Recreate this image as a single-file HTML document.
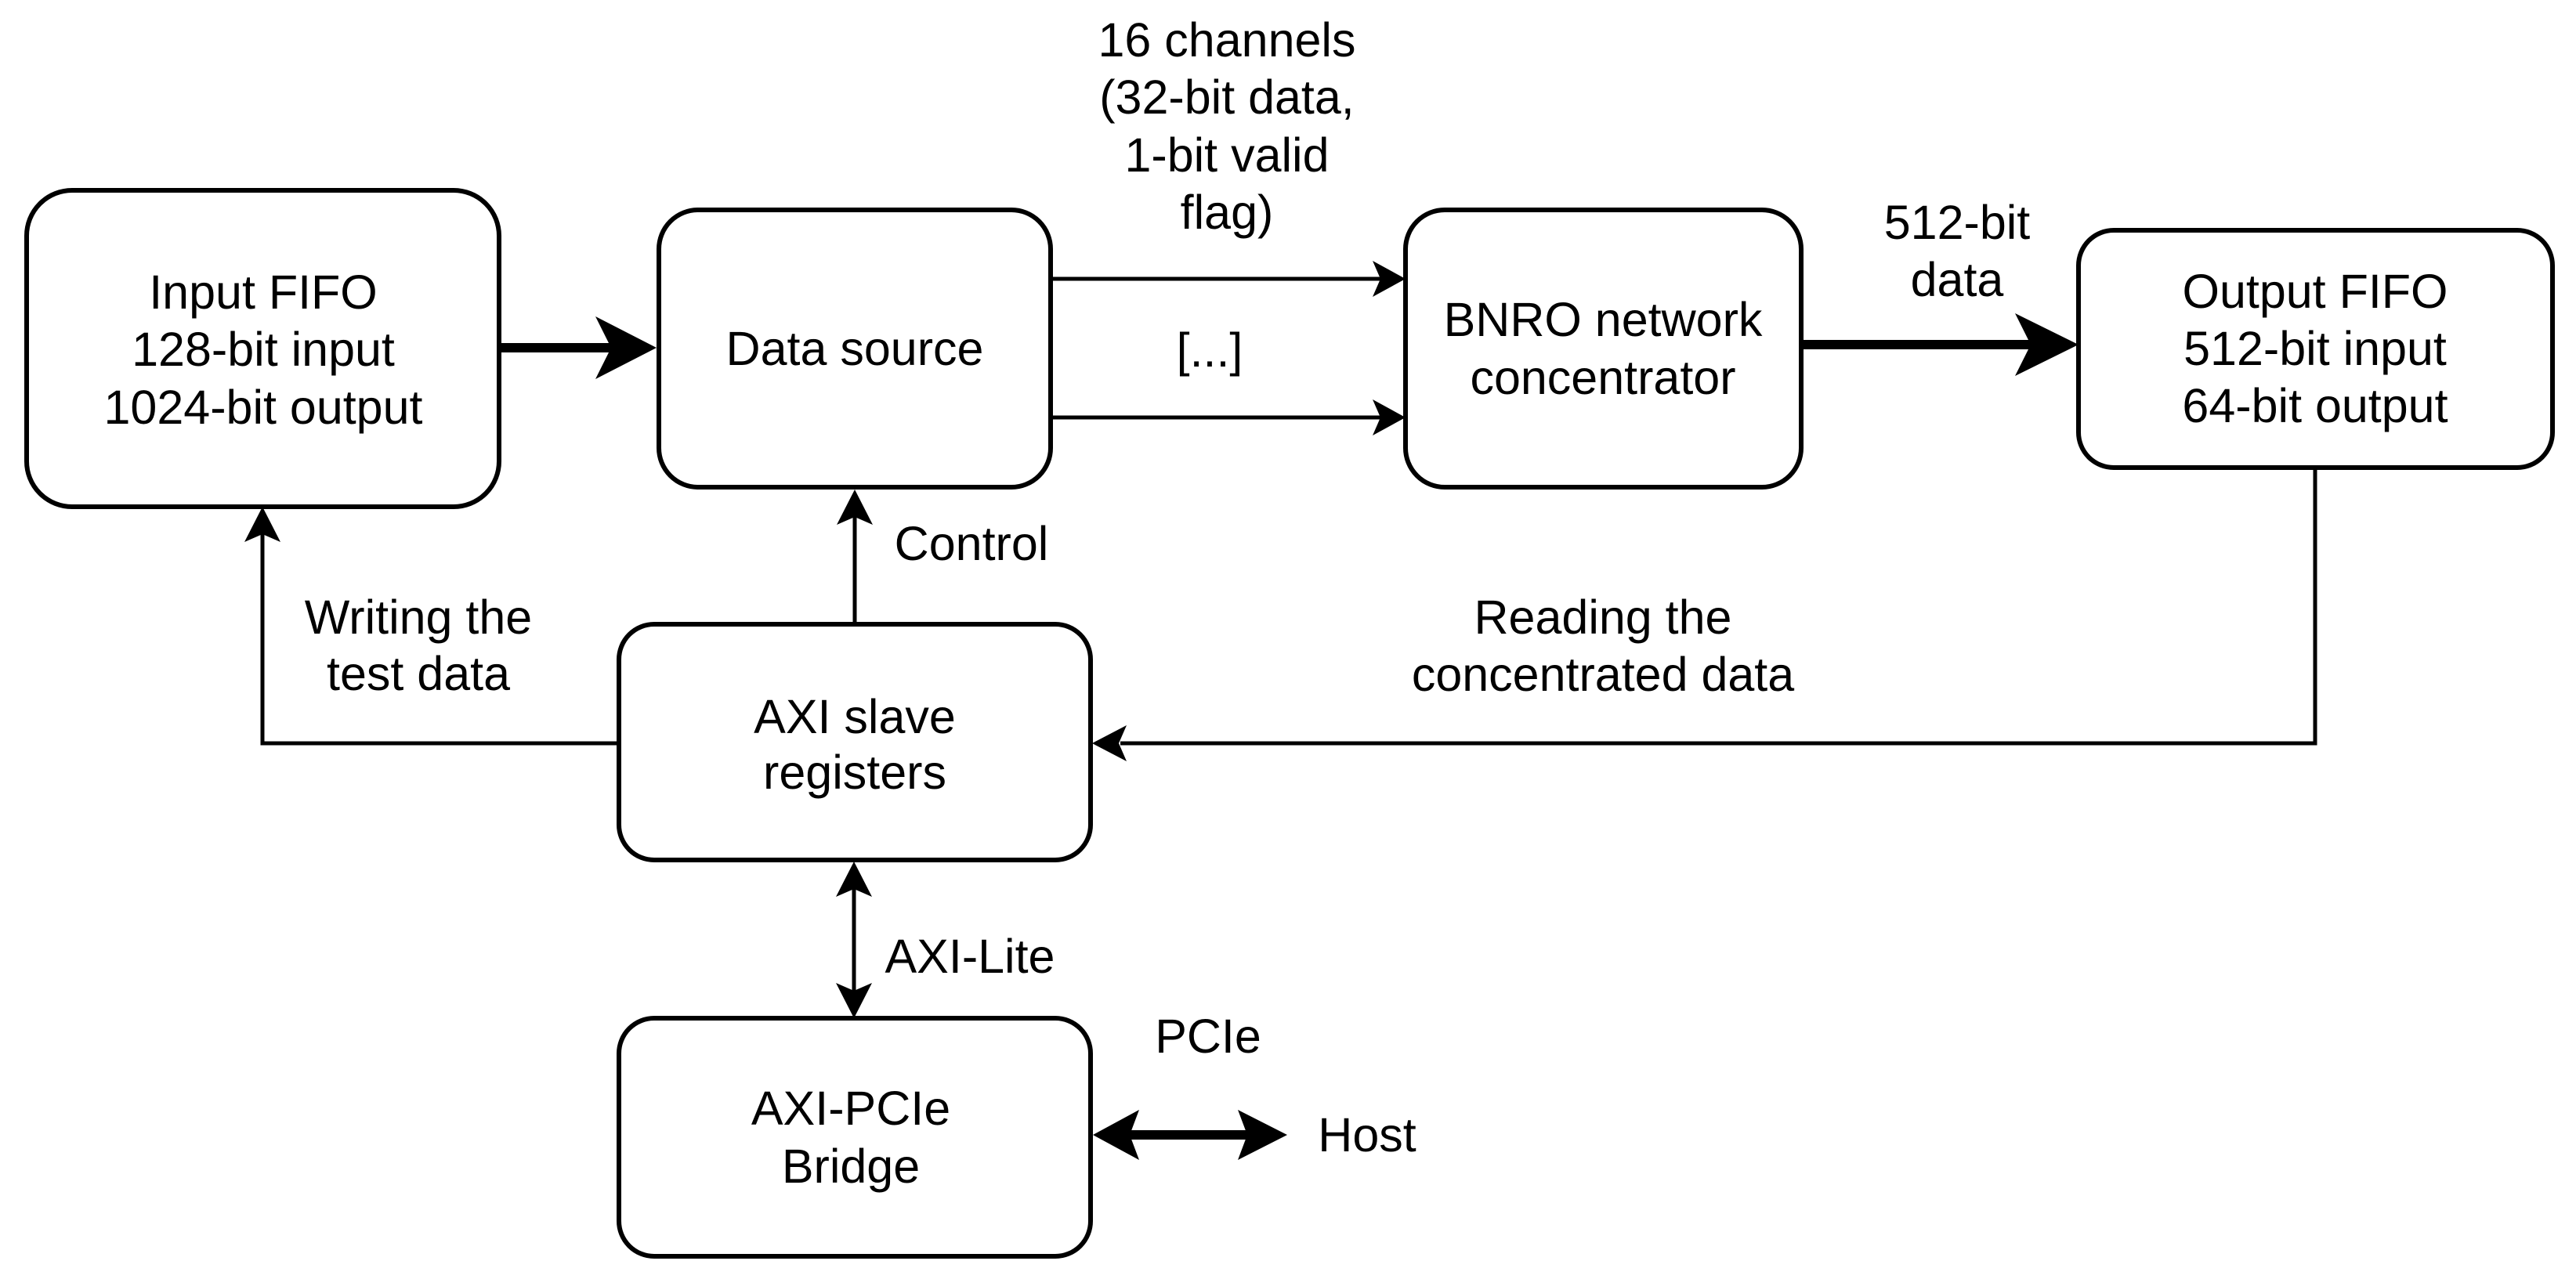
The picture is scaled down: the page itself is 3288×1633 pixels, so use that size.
<!DOCTYPE html>
<html><head><meta charset="utf-8"><style>
html,body{margin:0;padding:0;background:#fff}
svg{display:block}
text{font-family:"Liberation Sans",Arial,sans-serif;font-size:61px;fill:#000;text-anchor:middle;dominant-baseline:central}
</style></head><body>
<svg width="3288" height="1633" viewBox="0 0 3288 1633" xmlns="http://www.w3.org/2000/svg">
<g fill="none" stroke="#000" stroke-width="6">
<rect x="34" y="243" width="603" height="404" rx="58"/>
<rect x="841" y="268" width="500" height="354" rx="50"/>
<rect x="1794" y="268" width="505" height="354" rx="50"/>
<rect x="2653" y="294" width="605" height="303" rx="45"/>
<rect x="790" y="797" width="602" height="301" rx="45"/>
<rect x="790" y="1300" width="602" height="304" rx="45"/>
</g>
<g fill="none" stroke="#000" stroke-width="5">
<line x1="1341" y1="356" x2="1770" y2="356"/>
<line x1="1341" y1="533" x2="1770" y2="533"/>
<line x1="1091" y1="794" x2="1091" y2="660"/>
<polyline points="790,949 335,949 335,680"/>
<polyline points="2955,597 2955,949 1430,949"/>
<line x1="1090" y1="1135" x2="1090" y2="1265"/>
</g>
<g fill="none" stroke="#000" stroke-width="12">
<line x1="637" y1="444" x2="790" y2="444"/>
<line x1="2299" y1="440" x2="2600" y2="440"/>
<line x1="1440" y1="1449" x2="1600" y2="1449"/>
</g>
<g fill="#000" stroke="none">
<!-- thick heads -->
<path d="M838,444 L760,404 L780,444 L760,484 Z"/>
<path d="M2653,440 L2572,400 L2592,440 L2572,480 Z"/>
<path d="M1395,1449 L1454,1417 L1442,1449 L1454,1481 Z"/>
<path d="M1643,1449 L1580,1417 L1592,1449 L1580,1481 Z"/>
<!-- channel heads -->
<path d="M1794,356 L1752,333 L1762,356 L1752,379 Z"/>
<path d="M1794,533 L1752,510 L1762,533 L1752,556 Z"/>
<!-- control up -->
<path d="M1091,625 L1068,670 L1091,660 L1114,670 Z"/>
<!-- input fifo up -->
<path d="M335,647 L312,692 L335,682 L358,692 Z"/>
<!-- reading left -->
<path d="M1394,949 L1438,926 L1428,949 L1438,972 Z"/>
<!-- axi-lite double -->
<path d="M1090,1100 L1067,1145 L1090,1135 L1113,1145 Z"/>
<path d="M1090,1300 L1067,1255 L1090,1265 L1113,1255 Z"/>
</g>
<text x="336" y="373">Input FIFO</text>
<text x="336" y="446">128-bit input</text>
<text x="336" y="520">1024-bit output</text>
<text x="1091" y="445">Data source</text>
<text x="2046" y="408">BNRO network</text>
<text x="2046" y="482">concentrator</text>
<text x="2955" y="372">Output FIFO</text>
<text x="2955" y="445">512-bit input</text>
<text x="2955" y="518">64-bit output</text>
<text x="1091" y="915">AXI slave</text>
<text x="1091" y="986">registers</text>
<text x="1086" y="1415">AXI-PCIe</text>
<text x="1086" y="1489">Bridge</text>
<text x="1566" y="51">16 channels</text>
<text x="1566" y="124">(32-bit data,</text>
<text x="1566" y="198">1-bit valid</text>
<text x="1566" y="271">flag)</text>
<text x="1544" y="447">[...]</text>
<text x="2498" y="284">512-bit</text>
<text x="2498" y="357">data</text>
<text x="1240" y="694">Control</text>
<text x="534" y="788">Writing the</text>
<text x="534" y="860">test data</text>
<text x="2046" y="788">Reading the</text>
<text x="2046" y="861">concentrated data</text>
<text x="1238" y="1221">AXI-Lite</text>
<text x="1542" y="1323">PCIe</text>
<text x="1745" y="1449">Host</text>
</svg>
</body></html>
